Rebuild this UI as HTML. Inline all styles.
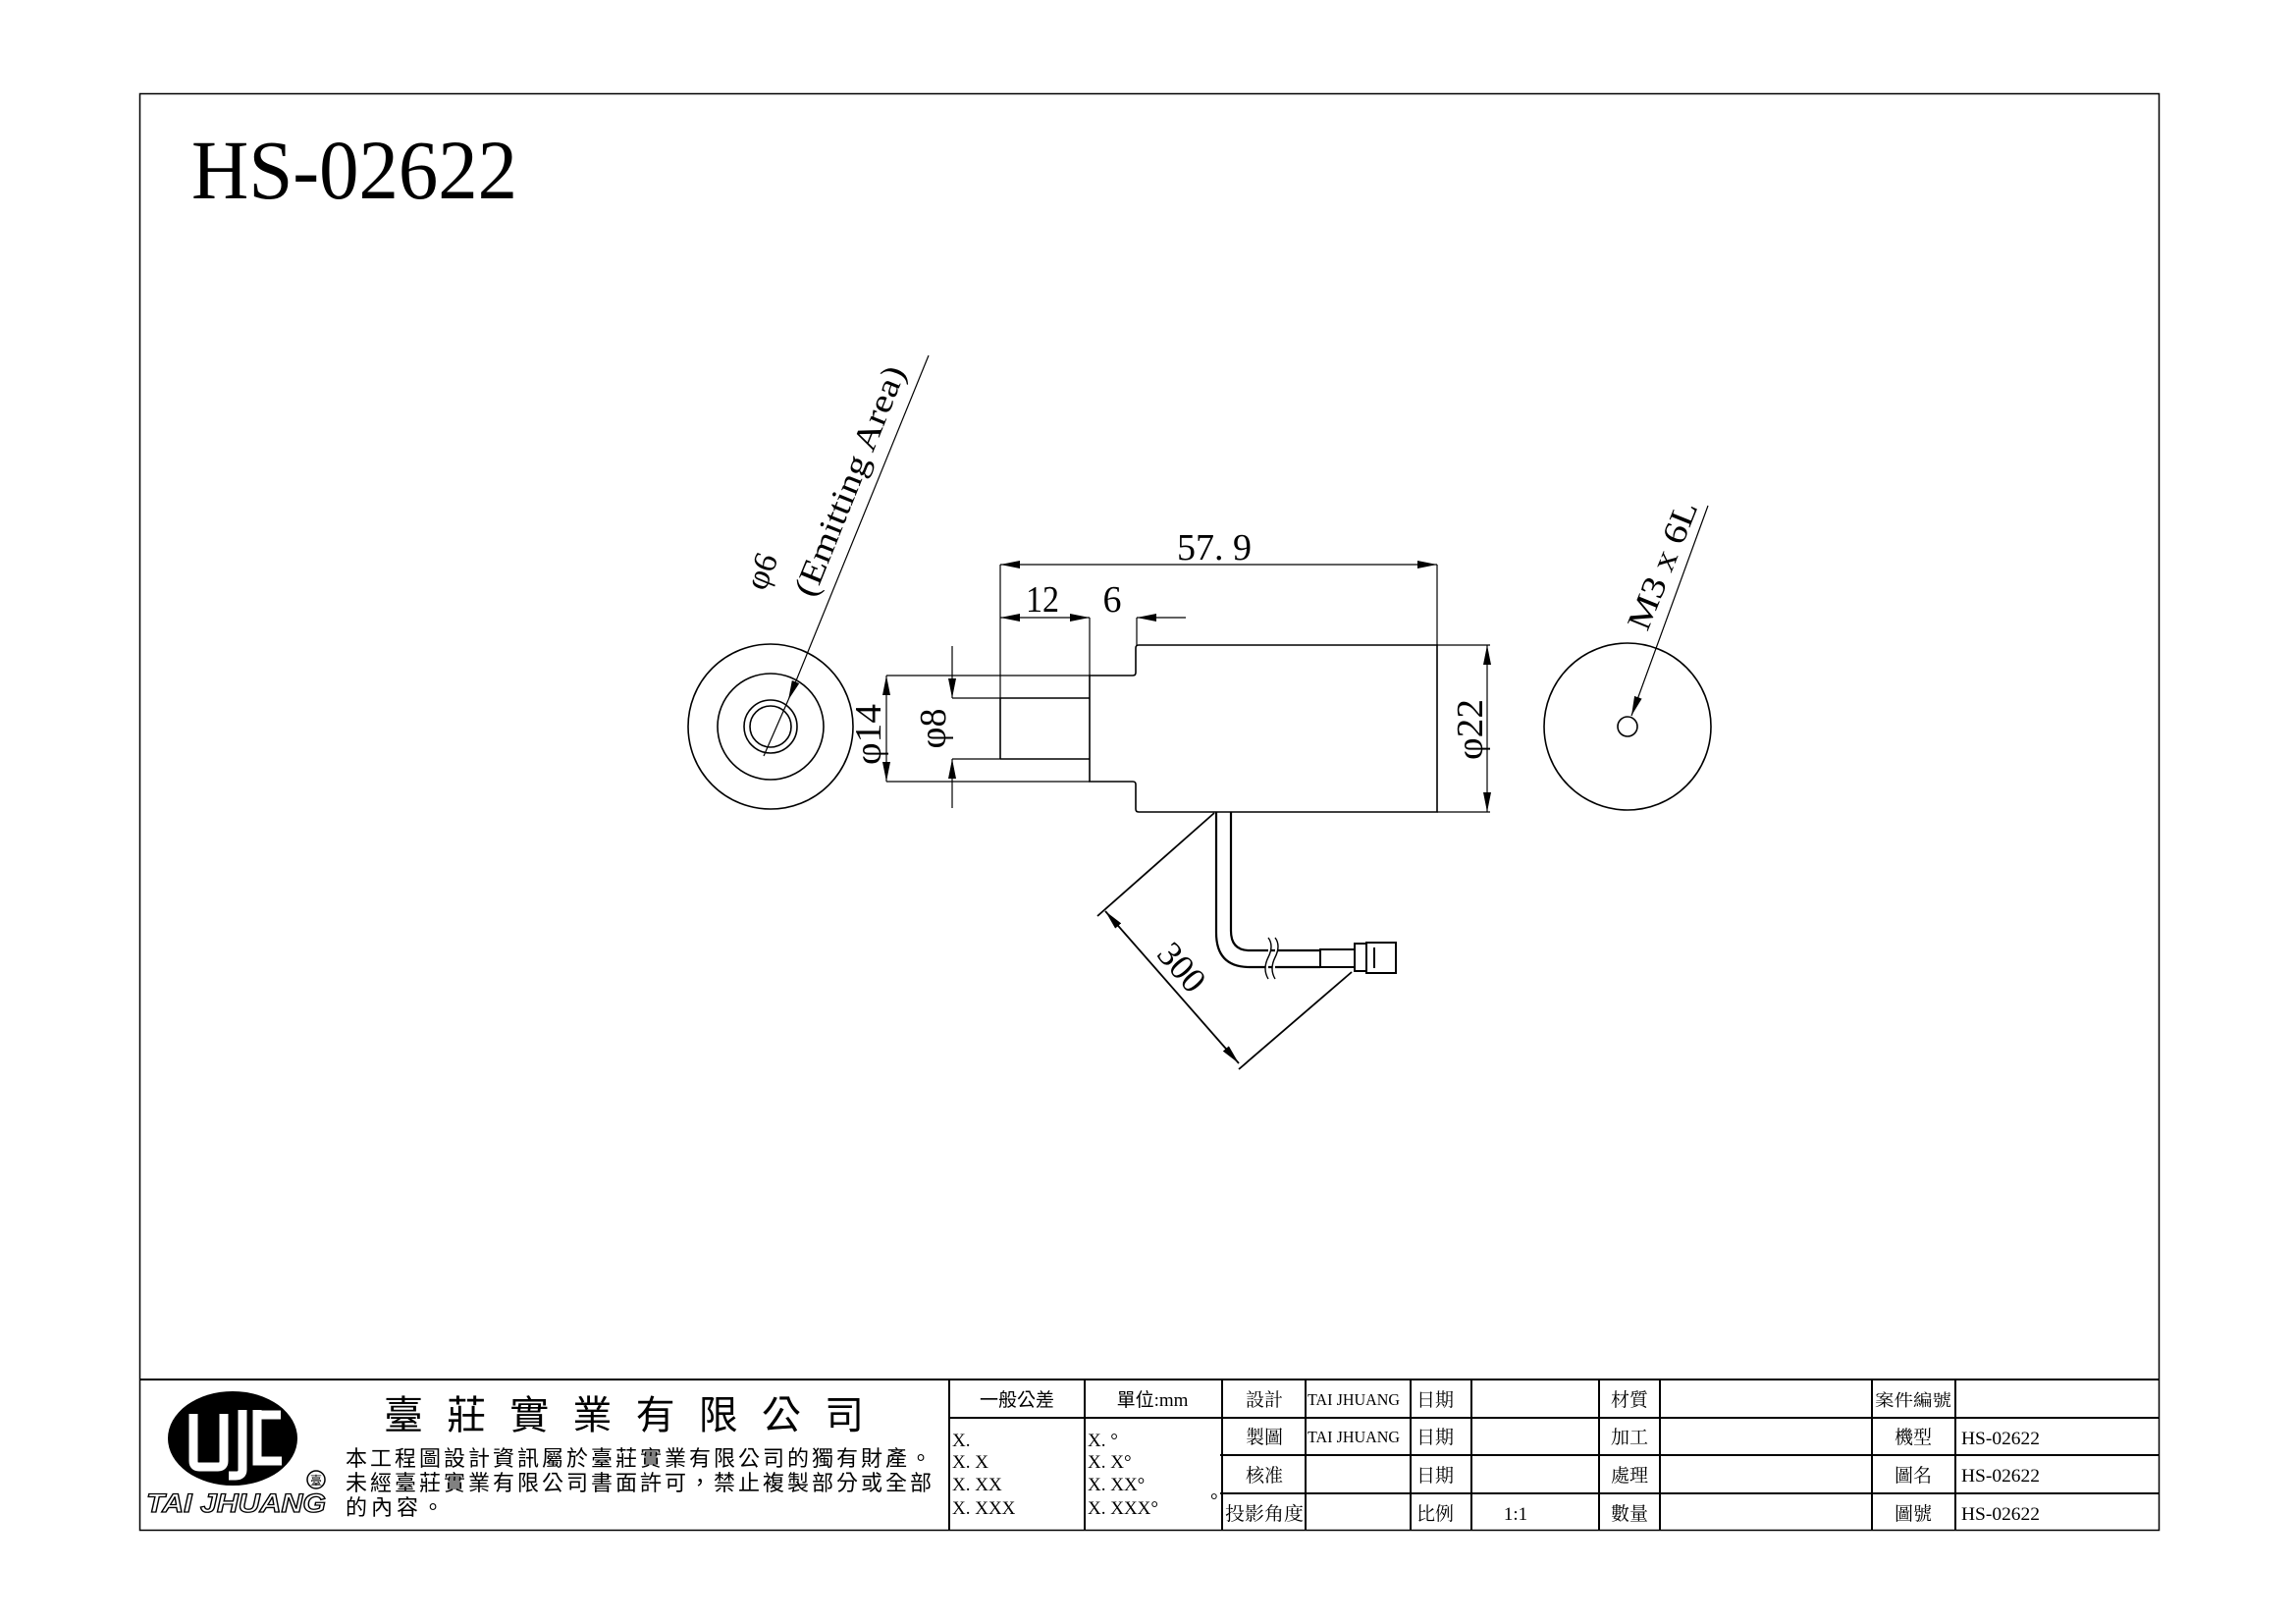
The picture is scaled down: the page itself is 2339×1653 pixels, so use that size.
<!DOCTYPE html>
<html><head><meta charset="utf-8"><style>
html,body{margin:0;padding:0;background:#fff}
svg{display:block}
text{font-family:"Liberation Serif","Noto Serif CJK SC","Noto Sans CJK TC",serif;fill:#000}
.c{font-family:"Liberation Serif","Noto Sans CJK TC","Noto Sans CJK SC",serif}
</style></head><body>
<svg width="2339" height="1653" viewBox="0 0 2339 1653" xmlns="http://www.w3.org/2000/svg">
<defs>
<marker id="a" viewBox="0 0 20 8" refX="20" refY="4" markerWidth="20" markerHeight="8" markerUnits="userSpaceOnUse" orient="auto-start-reverse"><path d="M0,0 L20,4 L0,8 Z" fill="#000"/></marker>
</defs>
<rect width="2339" height="1653" fill="#fff"/>
<rect x="142.5" y="95.5" width="2057" height="1463" fill="none" stroke="#000" stroke-width="1.5"/>
<text x="195" y="202" font-size="86" textLength="332" lengthAdjust="spacingAndGlyphs">HS-02622</text>

<g stroke="#000" stroke-width="1.6" fill="none">
<circle cx="785" cy="740" r="84"/>
<circle cx="785" cy="740" r="54"/>
<circle cx="785" cy="740" r="27"/>
<circle cx="785" cy="740" r="21"/>
<line x1="946" y1="362" x2="803" y2="713" stroke-width="1.2" marker-end="url(#a)"/>
<line x1="803" y1="713" x2="778" y2="770" stroke-width="1.2"/>

<path d="M1160,657 H1464 V827 H1160 Q1157,827 1157,824 V799 Q1157,796 1154,796 H1110 V688 H1154 Q1157,688 1157,685 V660 Q1157,657 1160,657 Z"/>
<line x1="1110" y1="711" x2="1019" y2="711"/>
<line x1="1110" y1="773" x2="1019" y2="773"/>
<line x1="1019" y1="711" x2="1019" y2="773"/>
<line x1="1019" y1="711" x2="970" y2="711" stroke-width="1.2"/>
<line x1="1019" y1="773" x2="970" y2="773" stroke-width="1.2"/>
<line x1="1110" y1="688" x2="903" y2="688" stroke-width="1.2"/>
<line x1="1110" y1="796" x2="903" y2="796" stroke-width="1.2"/>

<g stroke-width="1.2">
<line x1="1019" y1="575" x2="1019" y2="711"/>
<line x1="1464" y1="575" x2="1464" y2="657"/>
<line x1="1019" y1="575" x2="1464" y2="575" marker-start="url(#a)" marker-end="url(#a)"/>
<line x1="1110" y1="629" x2="1110" y2="688"/>
<line x1="1019" y1="629" x2="1110" y2="629" marker-start="url(#a)" marker-end="url(#a)"/>
<line x1="1158" y1="629" x2="1158" y2="657"/>
<line x1="1208" y1="629" x2="1158" y2="629" marker-end="url(#a)"/>
<line x1="1464" y1="657" x2="1518" y2="657"/>
<line x1="1464" y1="827" x2="1518" y2="827"/>
<line x1="1515" y1="657" x2="1515" y2="827" marker-start="url(#a)" marker-end="url(#a)"/>
<line x1="903" y1="688" x2="903" y2="796" marker-start="url(#a)" marker-end="url(#a)"/>
<line x1="970" y1="658" x2="970" y2="711" marker-end="url(#a)"/>
<line x1="970" y1="823" x2="970" y2="773" marker-end="url(#a)"/>
</g>

<path d="M1239,827 V950 Q1239,985 1273,985 H1345" stroke-width="2.2"/>
<path d="M1254,827 V948 Q1254,968 1273,968 H1345" stroke-width="2.2"/>
<path d="M1292,955 q6,8 0,20 q-6,12 0,22" stroke-width="1.4" fill="#fff"/>
<path d="M1299,955 q6,8 0,20 q-6,12 0,22" stroke-width="1.4" fill="#fff"/>
<rect x="1345" y="967" width="35" height="18" stroke-width="2"/>
<rect x="1380" y="961" width="12" height="28" stroke-width="2"/>
<rect x="1392" y="960" width="30" height="31" stroke-width="2"/>
<line x1="1400" y1="965" x2="1400" y2="986" stroke-width="2"/>
<g stroke-width="1.8">
<line x1="1237" y1="828" x2="1118" y2="933"/>
<line x1="1377" y1="990" x2="1262" y2="1089"/>
<line x1="1126" y1="928" x2="1262" y2="1083" marker-start="url(#a)" marker-end="url(#a)"/>
</g>

<circle cx="1658" cy="740" r="85"/>
<circle cx="1658" cy="740" r="10"/>
<line x1="1740" y1="515" x2="1662" y2="729" stroke-width="1.2" marker-end="url(#a)"/>
</g>

<text x="1237" y="570" font-size="38" text-anchor="middle" textLength="76" lengthAdjust="spacingAndGlyphs">57. 9</text>
<text x="1062" y="623" font-size="38" text-anchor="middle" textLength="34" lengthAdjust="spacingAndGlyphs">12</text>
<text x="1133" y="623" font-size="38" text-anchor="middle">6</text>
<text transform="translate(1510,743) rotate(-90)" font-size="38" text-anchor="middle" textLength="62" lengthAdjust="spacingAndGlyphs">φ22</text>
<text transform="translate(897,748) rotate(-90)" font-size="38" text-anchor="middle" textLength="62" lengthAdjust="spacingAndGlyphs">φ14</text>
<text transform="translate(963,742) rotate(-90)" font-size="38" text-anchor="middle">φ8</text>
<text transform="translate(1195,993) rotate(49)" font-size="36" text-anchor="middle">300</text>
<text transform="translate(786,586) rotate(-68)" font-size="34" text-anchor="middle">φ6</text>
<text transform="translate(876,494) rotate(-68)" font-size="34" text-anchor="middle" textLength="250" lengthAdjust="spacingAndGlyphs">(Emitting Area)</text>
<text transform="translate(1704,580) rotate(-68)" font-size="34" text-anchor="middle" textLength="138" lengthAdjust="spacingAndGlyphs">M3 x 6L</text>

<g stroke="#000" stroke-width="2" fill="none">
<line x1="142" y1="1405" x2="2200" y2="1405"/>
<line x1="967" y1="1444" x2="1243" y2="1444"/>
<line x1="1243" y1="1444" x2="2200" y2="1444"/>
<line x1="1243" y1="1482" x2="2200" y2="1482"/>
<line x1="1243" y1="1521" x2="2200" y2="1521"/>
<line x1="967" y1="1405" x2="967" y2="1559"/>
<line x1="1105" y1="1405" x2="1105" y2="1559"/>
<line x1="1245" y1="1405" x2="1245" y2="1559"/>
<line x1="1330" y1="1405" x2="1330" y2="1559"/>
<line x1="1437" y1="1405" x2="1437" y2="1559"/>
<line x1="1499" y1="1405" x2="1499" y2="1559"/>
<line x1="1629" y1="1405" x2="1629" y2="1559"/>
<line x1="1691" y1="1405" x2="1691" y2="1559"/>
<line x1="1907" y1="1405" x2="1907" y2="1559"/>
<line x1="1992" y1="1405" x2="1992" y2="1559"/>
</g>

<ellipse cx="237" cy="1465" rx="66" ry="48" fill="#000"/>
<g stroke="#fff" stroke-width="9" fill="none">
<path d="M197,1440 V1488 Q197,1494 203,1494 H222 Q228,1494 228,1488 V1440"/>
<path d="M247,1436 V1497 Q247,1503 240,1503 H233"/>
<path d="M262,1436 V1488 H287"/>
<path d="M262,1441 H286"/>
</g>
<text x="149" y="1540" font-size="27" font-style="italic" font-weight="bold" textLength="183" lengthAdjust="spacingAndGlyphs" style="fill:#fff;stroke:#000;stroke-width:1.3;font-family:'Liberation Sans',sans-serif">TAI JHUANG</text>
<circle cx="322" cy="1507" r="9" fill="none" stroke="#000" stroke-width="1.5"/>
<text x="322" y="1512" font-size="12" text-anchor="middle" class="c">臺</text>

<text x="391" y="1455" font-size="40" class="c" textLength="489" lengthAdjust="spacing">臺莊實業有限公司</text>
<text x="352" y="1493" font-size="22" class="c" textLength="597" lengthAdjust="spacing">本工程圖設計資訊屬於臺莊實業有限公司的獨有財產。</text>
<text x="352" y="1518" font-size="22" class="c" textLength="597" lengthAdjust="spacing">未經臺莊實業有限公司書面許可，禁止複製部分或全部</text>
<text x="352" y="1543" font-size="22" class="c" textLength="100" lengthAdjust="spacing">的內容。</text>

<g font-size="19" class="c">
<text x="1036" y="1432" text-anchor="middle" class="c">一般公差</text>
<text x="1174" y="1432" text-anchor="middle" class="c">單位:mm</text>
<text x="970" y="1473">X.</text>
<text x="970" y="1495">X. X</text>
<text x="970" y="1518">X. XX</text>
<text x="970" y="1542">X. XXX</text>
<text x="1108" y="1473">X. °</text>
<text x="1108" y="1495">X. X°</text>
<text x="1108" y="1518">X. XX°</text>
<text x="1108" y="1542">X. XXX°</text>
<text x="1233" y="1534">°</text>

<text x="1288" y="1432" text-anchor="middle">設計</text>
<text x="1288" y="1470" text-anchor="middle">製圖</text>
<text x="1288" y="1509" text-anchor="middle">核准</text>
<text x="1288" y="1548" text-anchor="middle" textLength="80" lengthAdjust="spacingAndGlyphs">投影角度</text>
<text x="1332" y="1431" font-size="17" textLength="94" lengthAdjust="spacingAndGlyphs">TAI JHUANG</text>
<text x="1332" y="1469" font-size="17" textLength="94" lengthAdjust="spacingAndGlyphs">TAI JHUANG</text>
<text x="1462" y="1432" text-anchor="middle">日期</text>
<text x="1462" y="1470" text-anchor="middle">日期</text>
<text x="1462" y="1509" text-anchor="middle">日期</text>
<text x="1462" y="1548" text-anchor="middle">比例</text>
<text x="1544" y="1548" text-anchor="middle">1:1</text>
<text x="1660" y="1432" text-anchor="middle">材質</text>
<text x="1660" y="1470" text-anchor="middle">加工</text>
<text x="1660" y="1509" text-anchor="middle">處理</text>
<text x="1660" y="1548" text-anchor="middle">數量</text>
<text x="1949" y="1432" text-anchor="middle" font-size="17" textLength="78" lengthAdjust="spacingAndGlyphs">案件編號</text>
<text x="1949" y="1470" text-anchor="middle">機型</text>
<text x="1949" y="1509" text-anchor="middle">圖名</text>
<text x="1949" y="1548" text-anchor="middle">圖號</text>
<text x="1998" y="1471" textLength="80" lengthAdjust="spacingAndGlyphs">HS-02622</text>
<text x="1998" y="1509" textLength="80" lengthAdjust="spacingAndGlyphs">HS-02622</text>
<text x="1998" y="1548" textLength="80" lengthAdjust="spacingAndGlyphs">HS-02622</text>
</g>
</svg>
</body></html>
